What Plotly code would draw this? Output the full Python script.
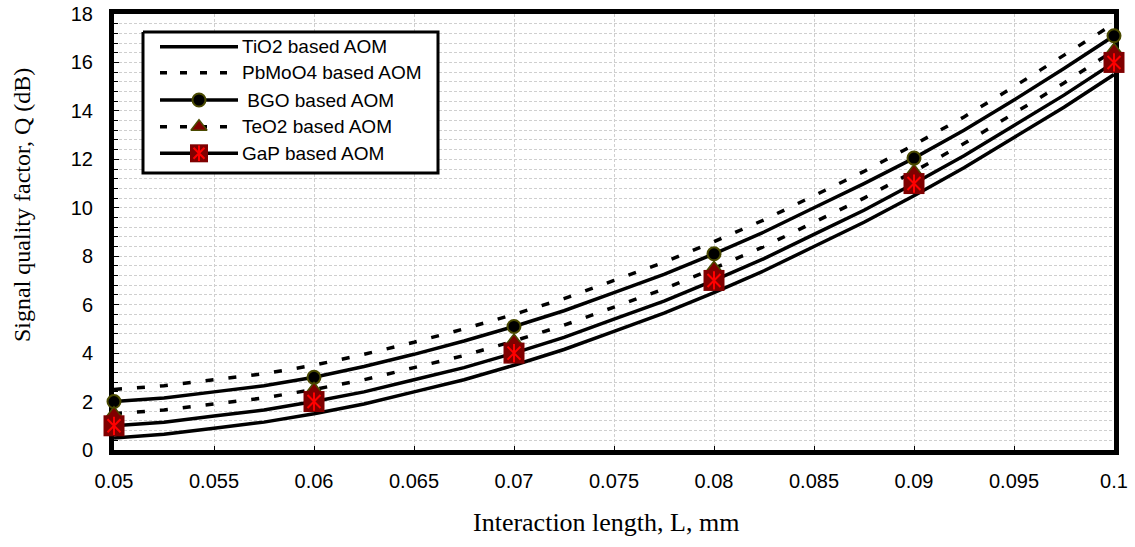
import plotly.graph_objects as go

# ---------------- data ----------------
L = [0.05, 0.0525, 0.055, 0.0575, 0.06, 0.0625, 0.065, 0.0675, 0.07, 0.0725,
     0.075, 0.0775, 0.08, 0.0825, 0.085, 0.0875, 0.09, 0.0925, 0.095, 0.0975, 0.1]

tio2 = [0.5, 0.65, 0.9, 1.15, 1.5, 1.9, 2.4, 2.9, 3.5, 4.15, 4.9, 5.65, 6.5,
        7.4, 8.4, 9.4, 10.5, 11.65, 12.9, 14.15, 15.5]
pbmoo4 = [2.5, 2.65, 2.9, 3.15, 3.5, 3.95, 4.45, 5.0, 5.6, 6.25, 7.0, 7.75, 8.6,
          9.5, 10.5, 11.5, 12.6, 13.75, 15.0, 16.3, 17.6]
bgo = [2.0, 2.15, 2.4, 2.65, 3.0, 3.45, 3.95, 4.5, 5.1, 5.75, 6.5, 7.25, 8.1,
       9.0, 10.0, 11.0, 12.05, 13.2, 14.45, 15.75, 17.1]
teo2 = [1.5, 1.65, 1.9, 2.15, 2.5, 2.9, 3.4, 3.9, 4.5, 5.15, 5.9, 6.65, 7.5,
        8.4, 9.4, 10.4, 11.5, 12.65, 13.9, 15.15, 16.5]
gap = [1.0, 1.15, 1.4, 1.65, 2.0, 2.4, 2.9, 3.4, 4.0, 4.65, 5.4, 6.15, 7.0,
       7.9, 8.9, 9.9, 11.0, 12.15, 13.4, 14.65, 16.0]

names = ["TiO2 based AOM", "PbMoO4 based AOM", " BGO based AOM",
         "TeO2 based AOM", "GaP based AOM"]

x_tick_vals = [0.05, 0.055, 0.06, 0.065, 0.07, 0.075, 0.08, 0.085, 0.09, 0.095, 0.1]
x_tick_text = ["0.05", "0.055", "0.06", "0.065", "0.07", "0.075", "0.08",
               "0.085", "0.09", "0.095", "0.1"]
y_tick_vals = [0, 2, 4, 6, 8, 10, 12, 14, 16, 18]

# ---------------- styles ----------------
SANS = "Liberation Sans, Arial, sans-serif"
SERIF = "Liberation Serif, Times New Roman, serif"
LW = 3.5
DASH = "8px,15px"
OLIVE = "#4a4a00"
DARKRED = "#800000"
RED = "#ff0000"

fig = go.Figure()

series = [
    (tio2, "solid"),
    (pbmoo4, DASH),
    (bgo, "solid"),
    (teo2, DASH),
    (gap, "solid"),
]
for vals, dash in series:
    fig.add_trace(go.Scatter(x=L, y=vals, mode="lines",
                             line=dict(color="black", width=LW, dash=dash),
                             showlegend=False, hoverinfo="skip"))

# markers only at every 0.01 mm (every 4th reading)
mk_L = L[::4]
fig.add_trace(go.Scatter(x=mk_L, y=bgo[::4], mode="markers", cliponaxis=False,
                         marker=dict(symbol="circle", size=13, color="black",
                                     line=dict(color=OLIVE, width=2)),
                         showlegend=False))
fig.add_trace(go.Scatter(x=mk_L, y=teo2[::4], mode="markers", cliponaxis=False,
                         marker=dict(symbol="triangle-up", size=14, color=DARKRED,
                                     line=dict(color=OLIVE, width=1.5)),
                         showlegend=False))
fig.add_trace(go.Scatter(x=mk_L, y=gap[::4], mode="markers", cliponaxis=False,
                         marker=dict(symbol="square", size=21, color=DARKRED,
                                     line=dict(width=0)),
                         showlegend=False))
for sym in ["x-thin-open", "line-ns-open"]:
    fig.add_trace(go.Scatter(x=mk_L, y=gap[::4], mode="markers", cliponaxis=False,
                             marker=dict(symbol=sym, size=13, color=RED,
                                         line=dict(color=RED, width=2)),
                             showlegend=False))

# ---------------- custom legend on a pixel-based overlay axis ----------------
box_x = [143, 438, 438, 143, 143]
box_y = [32, 32, 173, 173, 32]
fig.add_trace(go.Scatter(x=box_x, y=box_y, xaxis="x2", yaxis="y2", mode="lines",
                         fill="toself", fillcolor="white",
                         line=dict(color="black", width=3), showlegend=False,
                         hoverinfo="skip"))
rows = [46.7, 72.7, 100, 126.7, 153.3]
leg_dash = ["solid", "7px,13px", "solid", "7px,13px", "solid"]
for ry, d in zip(rows, leg_dash):
    fig.add_trace(go.Scatter(x=[160, 238], y=[ry, ry], xaxis="x2", yaxis="y2",
                             mode="lines", line=dict(color="black", width=LW, dash=d),
                             showlegend=False, hoverinfo="skip"))
fig.add_trace(go.Scatter(x=[199], y=[rows[2]], xaxis="x2", yaxis="y2", mode="markers",
                         marker=dict(symbol="circle", size=13, color="black",
                                     line=dict(color=OLIVE, width=2)), showlegend=False))
fig.add_trace(go.Scatter(x=[199], y=[rows[3]], xaxis="x2", yaxis="y2", mode="markers",
                         marker=dict(symbol="triangle-up", size=14, color=DARKRED,
                                     line=dict(color=OLIVE, width=1.5)), showlegend=False))
fig.add_trace(go.Scatter(x=[199], y=[rows[4]], xaxis="x2", yaxis="y2", mode="markers",
                         marker=dict(symbol="square", size=18, color=DARKRED,
                                     line=dict(width=0)), showlegend=False))
for sym in ["x-thin-open", "line-ns-open"]:
    fig.add_trace(go.Scatter(x=[199], y=[rows[4]], xaxis="x2", yaxis="y2", mode="markers",
                             marker=dict(symbol=sym, size=11, color=RED,
                                         line=dict(color=RED, width=2)),
                             showlegend=False))

annotations = []
for ry, nm in zip(rows, names):
    annotations.append(dict(x=240, y=ry, xref="x2", yref="y2", text=nm,
                            showarrow=False, xanchor="left", yanchor="middle",
                            font=dict(family=SANS, size=19, color="black")))

# axis titles
annotations.append(dict(x=(22 - 114) / 1000, y=(450 - 205) / 436, xref="paper", yref="paper",
                        text="Signal quality factor, Q (dB)", textangle=-90,
                        showarrow=False, xanchor="center", yanchor="middle",
                        font=dict(family=SERIF, size=24, color="black")))
annotations.append(dict(x=(606 - 114) / 1000, y=(450 - 522) / 436, xref="paper", yref="paper",
                        text="Interaction length, L, mm",
                        showarrow=False, xanchor="center", yanchor="middle",
                        font=dict(family=SERIF, size=26, color="black")))

GRID = "#cfcfcf"
fig.update_layout(
    width=1135, height=547,
    margin=dict(l=114, r=21, t=14, b=97, autoexpand=False),
    paper_bgcolor="white", plot_bgcolor="white",
    showlegend=False,
    annotations=annotations,
    xaxis=dict(range=[0.05, 0.1], tickvals=x_tick_vals, ticktext=x_tick_text,
               automargin=False,
               showline=True, linecolor="black", linewidth=5, mirror=True,
               ticks="inside", ticklen=4, tickwidth=1, tickcolor="black",
               showgrid=True, gridcolor=GRID, gridwidth=1, griddash="3px,2px",
               zeroline=False, layer="below traces", ticklabelstandoff=9,
               tickfont=dict(family=SANS, size=20, color="black")),
    yaxis=dict(range=[0, 18], tickvals=y_tick_vals, automargin=False,
               showline=True, linecolor="black", linewidth=5, mirror=True,
               ticks="inside", ticklen=5, tickwidth=1, tickcolor="black",
               showgrid=True, gridcolor=GRID, gridwidth=1, griddash="3px,2px",
               minor=dict(dtick=0.4, tick0=0, showgrid=True, gridcolor=GRID,
                          gridwidth=1, griddash="3px,2px", ticks="inside",
                          ticklen=4, tickcolor="black"),
               zeroline=False, layer="below traces", ticklabelstandoff=12,
               tickfont=dict(family=SANS, size=20, color="black")),
    xaxis2=dict(overlaying="x", anchor="y2", range=[114, 1114], visible=False,
                fixedrange=True, automargin=False),
    yaxis2=dict(overlaying="y", anchor="x2", range=[450, 14], visible=False,
                fixedrange=True, automargin=False),
)

fig.write_html("out.html")
